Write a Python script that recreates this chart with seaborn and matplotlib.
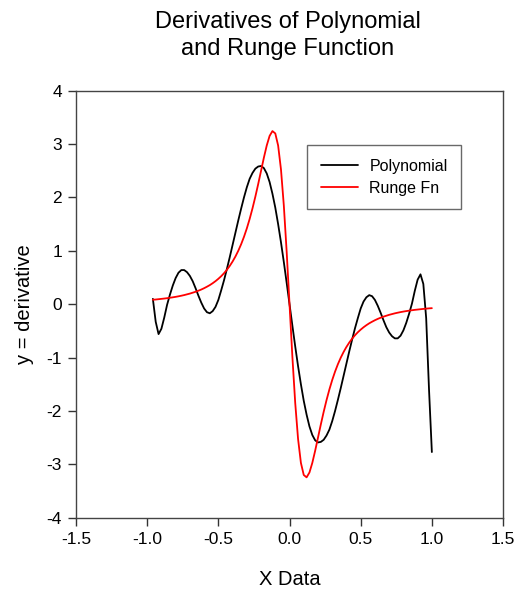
import numpy as np
import pandas as pd
import seaborn as sns
import matplotlib.pyplot as plt

# x positions shared by both curves
x_vals = [round(-0.96 + 0.02 * i, 2) for i in range(99)]

# derivative of the polynomial (black curve)
poly_vals = [
    0.10, -0.33, -0.56, -0.46, -0.25, -0.01, 0.18, 0.35, 0.49, 0.59,
    0.64, 0.64, 0.60, 0.53, 0.43, 0.30, 0.16, 0.03, -0.08, -0.15,
    -0.17, -0.13, -0.05, 0.08, 0.26, 0.45, 0.66, 0.88, 1.11, 1.34,
    1.57, 1.79, 2.00, 2.19, 2.35, 2.46, 2.54, 2.58, 2.59, 2.55,
    2.45, 2.29, 2.07, 1.81, 1.50, 1.16, 0.79, 0.40, 0.00, -0.40,
    -0.79, -1.16, -1.50, -1.81, -2.07, -2.29, -2.45, -2.55, -2.59, -2.58,
    -2.54, -2.46, -2.35, -2.19, -2.00, -1.79, -1.57, -1.34, -1.11, -0.88,
    -0.66, -0.45, -0.26, -0.08, 0.05, 0.13, 0.17, 0.15, 0.08, -0.03,
    -0.16, -0.30, -0.43, -0.53, -0.60, -0.64, -0.64, -0.59, -0.49, -0.35,
    -0.18, 0.01, 0.25, 0.46, 0.56, 0.38, -0.26, -1.60, -2.77,
]

# derivative of the Runge function (red curve)
runge_vals = [
    0.083, 0.088, 0.094, 0.100, 0.106, 0.113, 0.121, 0.129, 0.138, 0.148,
    0.159, 0.171, 0.185, 0.199, 0.216, 0.233, 0.253, 0.275, 0.300, 0.328,
    0.358, 0.393, 0.432, 0.476, 0.525, 0.581, 0.645, 0.717, 0.800, 0.894,
    1.001, 1.123, 1.262, 1.420, 1.598, 1.797, 2.016, 2.252, 2.500, 2.747,
    2.974, 3.153, 3.244, 3.200, 2.973, 2.525, 1.849, 0.980, 0.000, -0.980,
    -1.849, -2.525, -2.973, -3.200, -3.244, -3.153, -2.974, -2.747, -2.500, -2.252,
    -2.016, -1.797, -1.598, -1.420, -1.262, -1.123, -1.001, -0.894, -0.800, -0.717,
    -0.645, -0.581, -0.525, -0.476, -0.432, -0.393, -0.358, -0.328, -0.300, -0.275,
    -0.253, -0.233, -0.216, -0.199, -0.185, -0.171, -0.159, -0.148, -0.138, -0.129,
    -0.121, -0.113, -0.106, -0.100, -0.094, -0.088, -0.083, -0.078, -0.074,
]

series_names = ["Polynomial", "Runge Fn"]
x_ticks = [-1.5, -1.0, -0.5, 0.0, 0.5, 1.0, 1.5]
y_ticks = [-4, -3, -2, -1, 0, 1, 2, 3, 4]

df = pd.DataFrame({
    "x": x_vals * 2,
    "y": poly_vals + runge_vals,
    "series": [series_names[0]] * len(x_vals) + [series_names[1]] * len(x_vals),
})

sns.set_style("ticks")
plt.rcParams["font.family"] = ["Liberation Sans", "DejaVu Sans"]
plt.rcParams["text.color"] = "black"
plt.rcParams["axes.labelcolor"] = "black"

fig = plt.figure(figsize=(5.17, 5.93), dpi=100)
ax = fig.add_axes([0.147, 0.127, 0.826, 0.72])

sns.lineplot(data=df, x="x", y="y", hue="series", palette=["black", "red"],
             estimator=None, sort=False, linewidth=1.3, ax=ax)

ax.set_xlim(-1.5, 1.5)
ax.set_ylim(-4, 4)
ax.set_xticks(x_ticks)
ax.set_xticklabels([f"{t:.1f}" for t in x_ticks])
ax.set_yticks(y_ticks)
ax.set_yticklabels([str(t) for t in y_ticks])
ax.tick_params(direction="out", length=6, width=1, colors="#333333",
               labelcolor="black", labelsize=12.5, pad=4)
for side in ["top", "right", "bottom", "left"]:
    ax.spines[side].set_visible(True)
    ax.spines[side].set_color("#444444")
    ax.spines[side].set_linewidth(1)

ax.set_xlabel("X Data", fontsize=14.5, labelpad=17, color="black")
ax.set_ylabel("y = derivative", fontsize=14.5, labelpad=9, color="black")
fig.suptitle("Derivatives of Polynomial\nand Runge Function", x=0.556, y=0.982,
             fontsize=17, linespacing=1.3, color="black")

leg = ax.legend(loc="upper left", bbox_to_anchor=(0.541, 0.873), fontsize=11.5,
                frameon=True, fancybox=False, edgecolor="#444444",
                borderpad=0.85, handlelength=2.35, handletextpad=0.7,
                labelspacing=0.45, borderaxespad=0)
leg.get_frame().set_linewidth(1)
for line in leg.get_lines():
    line.set_linewidth(1.3)
for txt in leg.get_texts():
    txt.set_color("black")

fig.savefig("out.png", dpi=100)
